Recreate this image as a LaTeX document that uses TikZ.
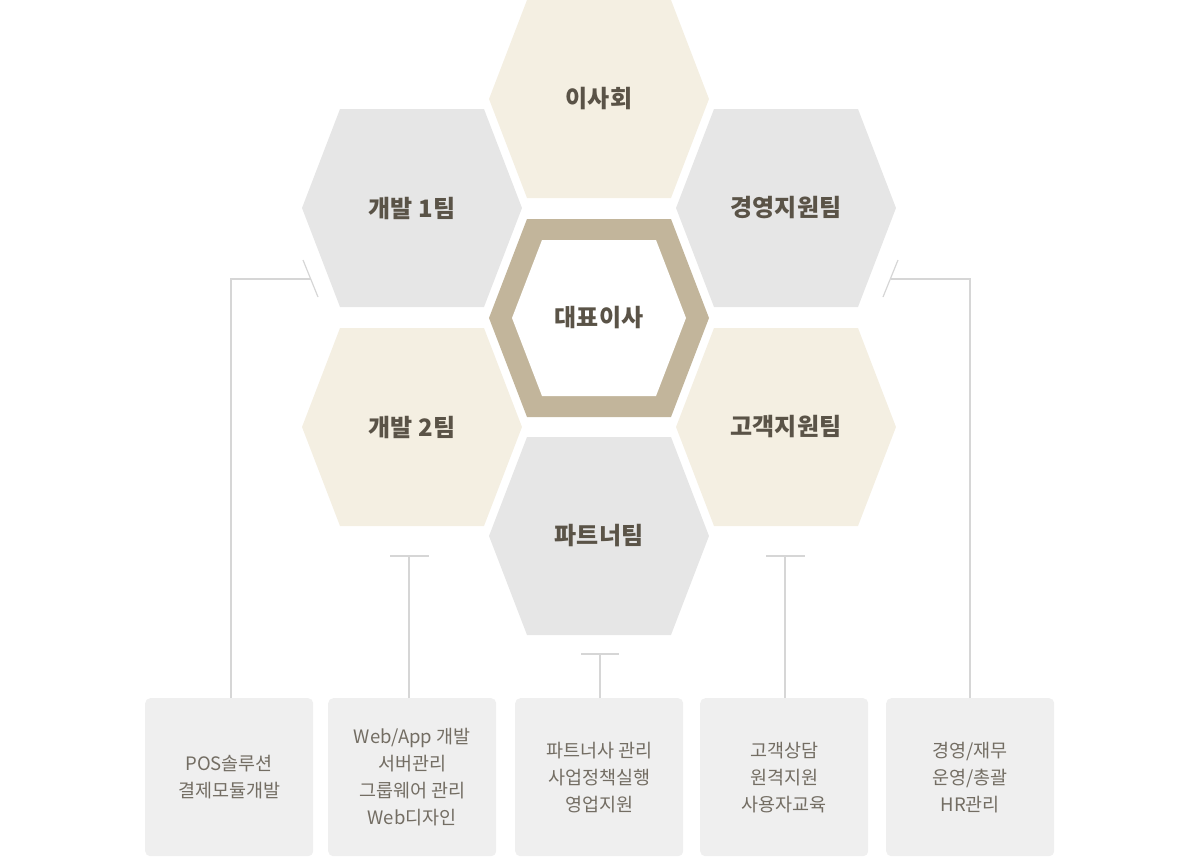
\documentclass[tikz,border=0pt]{standalone}
\usepackage{fontspec}
\setmainfont{Noto Sans CJK KR}
\definecolor{beige}{HTML}{F4EFE2}
\definecolor{hgray}{HTML}{E6E6E6}
\definecolor{tan}{HTML}{C2B59B}
\definecolor{txt}{HTML}{5A5347}
\definecolor{boxc}{HTML}{EFEFEF}
\definecolor{linec}{HTML}{D6D6D6}
\newcommand\myhex[3]{\fill[#3] ([shift={(-110,0)}]#1) -- ([shift={(-72,-99)}]#1) -- ([shift={(72,-99)}]#1) -- ([shift={(110,0)}]#1) -- ([shift={(72,99)}]#1) -- ([shift={(-72,99)}]#1) -- cycle;
\node[hlab] at (#1) {#2};}
\begin{document}
\begin{tikzpicture}[x=1pt,y=-1pt,
 hlab/.style={font=\bfseries\fontsize{24}{28}\selectfont,text=txt},
 bx/.style={fill=boxc,rounded corners=5pt,minimum width=168pt,minimum height=158pt,anchor=north west,align=center,text=txt!85,font=\fontsize{18.5}{27}\selectfont,inner sep=0pt},
 ln/.style={draw=linec,line width=1.2pt}]
\useasboundingbox (0,0) rectangle (1200,857);
\coordinate (c1) at (599,99);
\coordinate (c2) at (412,208);
\coordinate (c3) at (786,208);
\coordinate (c4) at (599,318);
\coordinate (c5) at (412,427);
\coordinate (c6) at (786,427);
\coordinate (c7) at (599,536);
\myhex{c1}{이사회}{beige}
\myhex{c2}{개발 1팀}{hgray}
\myhex{c3}{경영지원팀}{hgray}
\myhex{c5}{개발 2팀}{beige}
\myhex{c6}{고객지원팀}{beige}
\myhex{c7}{파트너팀}{hgray}
\fill[tan] ([shift={(-110,0)}]c4) -- ([shift={(-72,-99)}]c4) -- ([shift={(72,-99)}]c4) -- ([shift={(110,0)}]c4) -- ([shift={(72,99)}]c4) -- ([shift={(-72,99)}]c4) -- cycle;
\fill[white] ([shift={(-87,0)}]c4) -- ([shift={(-57,-78)}]c4) -- ([shift={(57,-78)}]c4) -- ([shift={(87,0)}]c4) -- ([shift={(57,78)}]c4) -- ([shift={(-57,78)}]c4) -- cycle;
\node[hlab] at (c4) {대표이사};
\node[bx] (b1) at (145,698) {POS솔루션\\결제모듈개발};
\node[bx] (b2) at (328,698) {Web/App 개발\\서버관리\\그룹웨어 관리\\Web디자인};
\node[bx] (b3) at (515,698) {파트너사 관리\\사업정책실행\\영업지원};
\node[bx] (b4) at (700,698) {고객상담\\원격지원\\사용자교육};
\node[bx] (b5) at (886,698) {경영/재무\\운영/총괄\\HR관리};
% left
\coordinate (l1) at (311,279);
\draw[ln] (b1.north -| 231,0) |- (l1);
\draw[ln] (303,260) -- (318,297);
\coordinate (r1) at (891,279);
\draw[ln] (b5.north -| 970,0) |- (r1);
\draw[ln] (898,260) -- (883,297);
\coordinate (t2) at (409,556);
\draw[ln] (b2.north -| t2) -- (t2);
\draw[ln] (390,556) -- (429,556);
\coordinate (t4) at (785,556);
\draw[ln] (b4.north -| t4) -- (t4);
\draw[ln] (766,556) -- (805,556);
\coordinate (t3) at (600,654);
\draw[ln] (b3.north -| t3) -- (t3);
\draw[ln] (581,654) -- (619,654);
\end{tikzpicture}
\end{document}
